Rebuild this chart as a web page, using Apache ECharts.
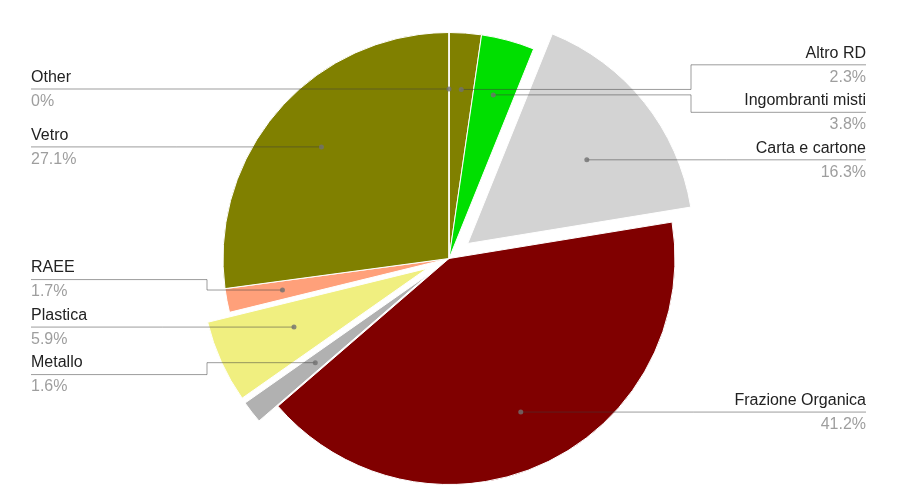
<!DOCTYPE html>
<html>
<head>
<meta charset="utf-8">
<script src="https://cdn.jsdelivr.net/npm/echarts@6/dist/echarts.min.js"></script>
<style>
html,body{margin:0;padding:0;background:#fff;}
#c{width:899px;height:501px;}
</style>
</head>
<body>
<div id="c"></div>
<script>
// ---- data ----
const categories = ['Altro RD','Ingombranti misti','Carta e cartone','Frazione Organica','Metallo','Plastica','RAEE','Vetro','Other'];
const values = [2.3, 3.8, 16.3, 41.2, 1.6, 5.9, 1.7, 27.1, 0];
const colors = ['#808000','#00df00','#d3d3d3','#800000','#b1b1b1','#f0ef80','#ffa07a','#808000','#3366cc'];
const exploded = ['Carta e cartone','Metallo','Plastica'];

// ---- layout constants ----
const CX = 449, CY = 258.5, R = 226;
const DOT_F = 0.75;
const EDGE_L = 31, EDGE_R = 866;
const BEND = 16;
const SPACING = 47.5;
const FONT = '"Liberation Sans", Arial, sans-serif';

const total = values.reduce((a, b) => a + b, 0);
const starts = [], ends = [], mids = [];
let acc = 0;
values.forEach(v => { starts.push(acc); mids.push(acc + v / 2); acc += v; ends.push(acc); });

const rDot = DOT_F * R;
function toDeg(v) { return v / total * 360; }
function posAt(deg) { const a = deg * Math.PI / 180; return [CX + rDot * Math.sin(a), CY - rDot * Math.cos(a)]; }

const basePos = mids.map(m => posAt(toDeg(m)));
const side = basePos.map(p => (p[0] < CX ? 'left' : 'right'));

// resolve label overlaps per side (centered clusters)
const labelY = {};
['left', 'right'].forEach(s => {
  const idx = categories.map((_, i) => i).filter(i => side[i] === s);
  idx.sort((a, b) => basePos[a][1] - basePos[b][1]);
  let groups = idx.map(i => ({ m: [i], c: basePos[i][1] }));
  let changed = true;
  while (changed) {
    changed = false;
    for (let g = 1; g < groups.length; g++) {
      const A = groups[g - 1], B = groups[g];
      const aBot = A.c + (A.m.length - 1) / 2 * SPACING;
      const bTop = B.c - (B.m.length - 1) / 2 * SPACING;
      if (bTop - aBot < SPACING) {
        const m = A.m.concat(B.m);
        const c = m.reduce((t, i) => t + basePos[i][1], 0) / m.length;
        groups.splice(g - 1, 2, { m, c });
        changed = true;
        break;
      }
    }
  }
  groups.forEach(G => G.m.forEach((i, k) => { labelY[i] = G.c + (k - (G.m.length - 1) / 2) * SPACING; }));
});

// dot angle (in value units): slide along dot circle to label height when it stays inside the slice
const dotVal = mids.slice();
categories.forEach((_, i) => {
  const ly = labelY[i];
  if (Math.abs(ly - basePos[i][1]) < 0.5) return;
  const c = (CY - ly) / rDot;
  if (c > 1 || c < -1) return;
  let deg = Math.acos(c) * 180 / Math.PI;
  if (side[i] === 'left') deg = 360 - deg;
  if (deg >= toDeg(starts[i]) && deg <= toDeg(ends[i])) dotVal[i] = deg / 360 * total;
});
const dotPos = dotVal.map(v => posAt(toDeg(v)));

const chart = echarts.init(document.getElementById('c'), null, { renderer: 'canvas' });
chart.setOption({
  animation: false,
  backgroundColor: '#fff',
  polar: { center: [CX, CY], radius: R },
  angleAxis: { type: 'value', min: 0, max: total, startAngle: 90, clockwise: true, show: false },
  radiusAxis: { type: 'value', min: 0, max: 1, show: false },
  series: [
    {
      type: 'pie',
      z: 1,
      center: [CX, CY],
      radius: R,
      startAngle: 90,
      clockwise: true,
      selectedMode: 'multiple',
      selectedOffset: 24,
      avoidLabelOverlap: false,
      silent: true,
      label: { show: false },
      labelLine: { show: false },
      itemStyle: { borderColor: '#fff', borderWidth: 1 },
      select: { itemStyle: { borderColor: '#fff', borderWidth: 1 } },
      emphasis: { disabled: true },
      data: categories.map((n, i) => ({
        name: n, value: values[i], selected: exploded.indexOf(n) >= 0,
        itemStyle: { color: colors[i] }
      }))
    },
    {
      type: 'pie',
      z: 4,
      center: [CX, CY],
      radius: rDot,
      startAngle: 90,
      clockwise: true,
      silent: true,
      avoidLabelOverlap: false,
      itemStyle: { color: 'rgba(0,0,0,0)', borderWidth: 0 },
      emphasis: { disabled: true },
      label: {
        show: true,
        position: 'outside',
        alignTo: 'edge',
        edgeDistance: EDGE_L,
        fontFamily: FONT,
        formatter: p => '{n|' + p.name + '}\n{p|' + p.value + '%}',
        rich: {
          n: { fontSize: 16, color: '#222222', lineHeight: 22, fontFamily: FONT },
          p: { fontSize: 16, color: '#9e9e9e', lineHeight: 26, fontFamily: FONT }
        }
      },
      labelLine: { show: true, length: 10, length2: 10, smooth: false, lineStyle: { color: 'rgba(60,60,60,0.5)', width: 1 } },
      labelLayout: function (params) {
        const i = params.dataIndex;
        const ly = labelY[i];
        const d = dotPos[i];
        const left = side[i] === 'left';
        const farX = left ? EDGE_L : EDGE_R;
        const bendX = left ? CX - R - BEND : CX + R + BEND;
        let pts;
        if (Math.abs(ly - d[1]) < 0.5) {
          pts = [[d[0], d[1]], [(d[0] + farX) / 2, d[1]], [farX, d[1]]];
        } else {
          pts = [[d[0], d[1]], [bendX, d[1]], [bendX, ly], [farX, ly]];
        }
        return {
          x: farX,
          y: ly + 1.5,
          align: left ? 'left' : 'right',
          verticalAlign: 'middle',
          labelLinePoints: pts
        };
      },
      data: categories.map((n, i) => ({ name: n, value: values[i] }))
    },
    {
      type: 'scatter',
      coordinateSystem: 'polar',
      silent: true,
      symbol: 'circle',
      symbolSize: 5,
      z: 5,
      itemStyle: { color: '#707070' },
      data: dotVal.map(v => [DOT_F, v])
    }
  ]
});
</script>
</body>
</html>
